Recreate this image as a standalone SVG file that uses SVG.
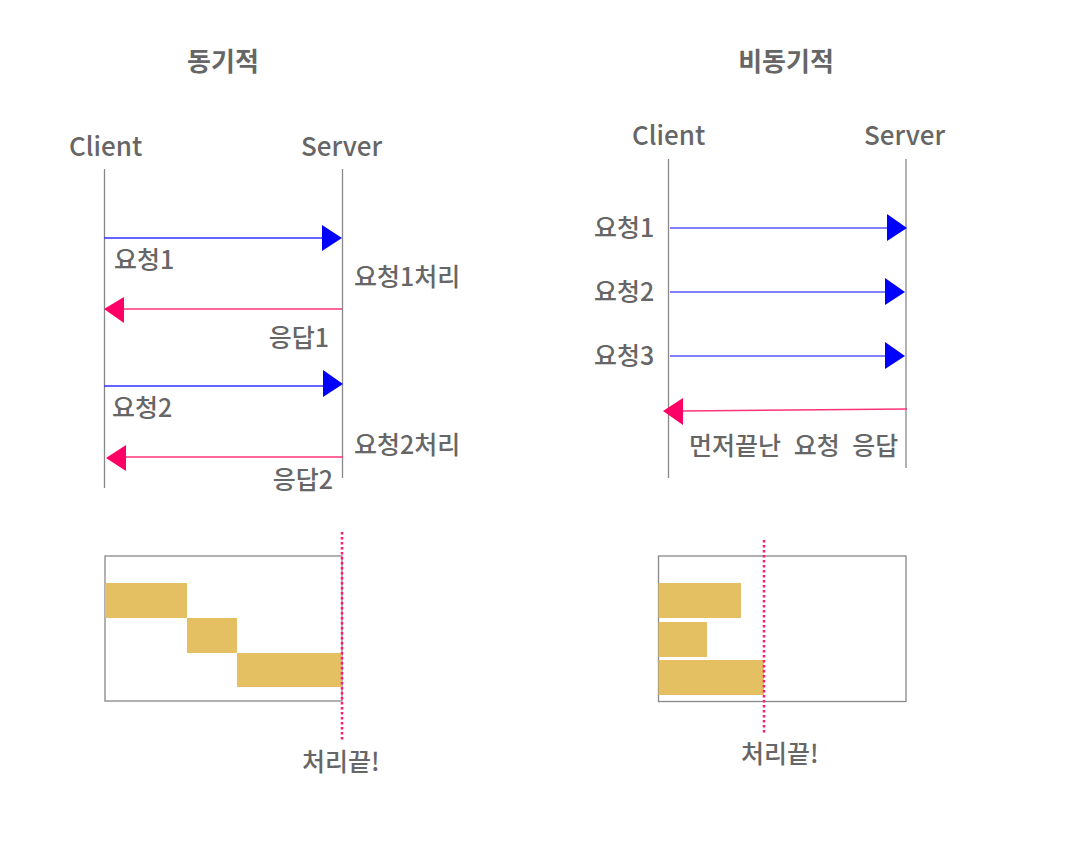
<svg xmlns="http://www.w3.org/2000/svg" width="1072" height="848" viewBox="0 0 1072 848">
<style>
text{font-family:"Noto Sans CJK KR","Noto Sans",sans-serif;fill:#666;}
.title{font-size:26px;font-weight:bold;}
.actor{font-size:26px;font-weight:500;}
.lbl{font-size:25px;font-weight:500;}
.life{stroke:#888;stroke-width:1.3;fill:none;}
.req{stroke:#3030ff;stroke-width:1.5;fill:none;}
.req2{stroke:#7f7fff;stroke-width:1.8;fill:none;}
.res{stroke:#ff3377;stroke-width:1.5;fill:none;}
.box{stroke:#888;stroke-width:1.3;fill:#fff;}
.bar{fill:#e4c062;}
.dot{stroke:#ff1a75;stroke-width:2.5;stroke-dasharray:2.5 2.5;fill:none;}
.hb{fill:#0000ff;}
.hp{fill:#ff0066;}
</style>

<g id="sync-title"><text class="title" x="223" y="71" text-anchor="middle">동기적</text></g>
<g id="async-title"><text class="title" x="786" y="71" text-anchor="middle">비동기적</text></g>

<g id="sync-client"><text class="actor" x="69" y="156">Client</text><line class="life" x1="104.5" y1="169" x2="104.5" y2="488"/></g>
<g id="sync-server"><text class="actor" x="301" y="156">Server</text><line class="life" x1="342.5" y1="169" x2="342.5" y2="478"/></g>

<g id="async-client"><text class="actor" x="632" y="145">Client</text><line class="life" x1="668.5" y1="159" x2="668.5" y2="478"/></g>
<g id="async-server"><text class="actor" x="864" y="145">Server</text><line class="life" x1="906" y1="159" x2="906" y2="468"/></g>

<g id="connectors">
  <line class="req" x1="104" y1="238" x2="324" y2="238"/>
  <polygon class="hb" points="322,225 342,238 322,251"/>
  <line class="res" x1="342" y1="309" x2="122" y2="309"/>
  <polygon class="hp" points="104,309 124,297 124,323"/>
  <line class="req" x1="104" y1="386" x2="325" y2="386"/>
  <polygon class="hb" points="323,370 343,384 323,397"/>
  <line class="res" x1="343" y1="457" x2="124" y2="457"/>
  <polygon class="hp" points="106,458 126,445 126,471"/>

  <line class="req2" x1="670" y1="228" x2="889" y2="228"/>
  <polygon class="hb" points="887,214 907,228 887,241"/>
  <line class="req2" x1="670" y1="292" x2="887" y2="292"/>
  <polygon class="hb" points="885,278 905,292 885,305"/>
  <line class="req2" x1="670" y1="356" x2="887" y2="356"/>
  <polygon class="hb" points="885,342 905,356 885,369"/>
  <line class="res" x1="907" y1="409" x2="681" y2="411"/>
  <polygon class="hp" points="663,411 683,398 683,425"/>
</g>

<g id="sync-labels">
  <text class="lbl" x="114" y="269">요청1</text>
  <text class="lbl" x="354" y="286">요청1처리</text>
  <text class="lbl" x="329" y="347" text-anchor="end">응답1</text>
  <text class="lbl" x="112" y="417">요청2</text>
  <text class="lbl" x="354" y="454">요청2처리</text>
  <text class="lbl" x="333" y="489" text-anchor="end">응답2</text>
</g>

<g id="async-labels">
  <text class="lbl" x="594" y="237">요청1</text>
  <text class="lbl" x="594" y="301">요청2</text>
  <text class="lbl" x="594" y="365">요청3</text>
  <text class="lbl" x="689" y="455" word-spacing="7">먼저끝난 요청 응답</text>
</g>

<g id="sync-timeline">
  <rect class="box" x="105" y="556" width="237" height="145"/>
  <rect class="bar" x="105" y="583" width="82" height="35"/>
  <rect class="bar" x="187" y="618" width="50" height="35"/>
  <rect class="bar" x="237" y="653" width="105" height="34"/>
  <line class="dot" x1="342" y1="532" x2="342" y2="742"/>
  <text class="lbl" x="302" y="771">처리끝!</text>
</g>

<g id="async-timeline">
  <rect class="box" x="658.5" y="556" width="247.5" height="145.5"/>
  <rect class="bar" x="658.5" y="583" width="82.5" height="35"/>
  <rect class="bar" x="658.5" y="622" width="48.5" height="35"/>
  <rect class="bar" x="658.5" y="660" width="105.5" height="35"/>
  <line class="dot" x1="764" y1="540" x2="764" y2="735"/>
  <text class="lbl" x="741" y="763">처리끝!</text>
</g>
</svg>
